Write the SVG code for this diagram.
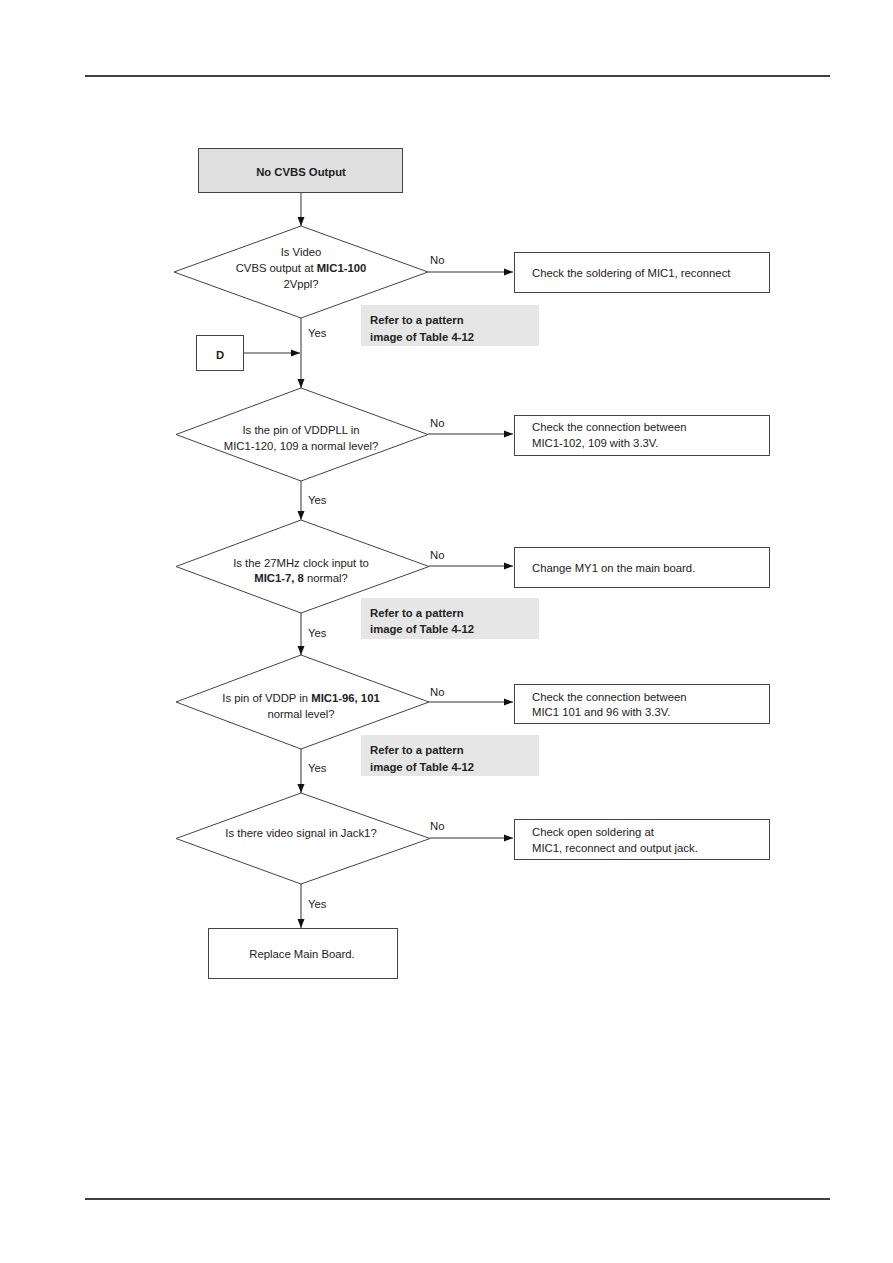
<svg xmlns="http://www.w3.org/2000/svg" width="893" height="1263" viewBox="0 0 893 1263">
<style>
text{font-family:"Liberation Sans",Arial,sans-serif;font-size:11.3px;fill:#222}
.b{font-weight:bold}
.c{text-anchor:middle}
.box{fill:#fff;stroke:#444;stroke-width:1}
.dia{fill:#fff;stroke:#444;stroke-width:1}
.ref{fill:#e6e6e6;stroke:none}
.ln{stroke:#333;stroke-width:1;fill:none}
</style>
<defs>
<marker id="ah" markerWidth="10" markerHeight="8" refX="9" refY="4" orient="auto" markerUnits="userSpaceOnUse">
<path d="M0,0.5 L9,4 L0,7.5 Z" fill="#111"/>
</marker>
</defs>
<line x1="85" y1="76" x2="830" y2="76" stroke="#000" stroke-width="1.5"/>
<line x1="85" y1="1199" x2="830" y2="1199" stroke="#000" stroke-width="1.5"/>

<g id="connectors">
<line class="ln" x1="301" y1="193" x2="301" y2="226" marker-end="url(#ah)"/>
<line class="ln" x1="301" y1="318" x2="301" y2="388" marker-end="url(#ah)"/>
<line class="ln" x1="244" y1="353" x2="300" y2="353" marker-end="url(#ah)"/>
<line class="ln" x1="301" y1="481" x2="301" y2="520" marker-end="url(#ah)"/>
<line class="ln" x1="301" y1="613" x2="301" y2="655" marker-end="url(#ah)"/>
<line class="ln" x1="301" y1="749" x2="301" y2="793" marker-end="url(#ah)"/>
<line class="ln" x1="301" y1="884" x2="301" y2="928" marker-end="url(#ah)"/>
<line class="ln" x1="428" y1="272" x2="513" y2="272" marker-end="url(#ah)"/>
<line class="ln" x1="428" y1="434" x2="513" y2="434" marker-end="url(#ah)"/>
<line class="ln" x1="429" y1="566" x2="513" y2="566" marker-end="url(#ah)"/>
<line class="ln" x1="429" y1="702" x2="513" y2="702" marker-end="url(#ah)" stroke-width="1.4"/>
<line class="ln" x1="430" y1="838" x2="513" y2="838" marker-end="url(#ah)"/>
<text x="430" y="264">No</text>
<text x="430" y="427">No</text>
<text x="430" y="559">No</text>
<text x="430" y="696">No</text>
<text x="430" y="830">No</text>
<text x="308" y="337">Yes</text>
<text x="308" y="504">Yes</text>
<text x="308" y="637">Yes</text>
<text x="308" y="772">Yes</text>
<text x="308" y="908">Yes</text>
</g>

<g id="start">
<rect x="198.5" y="148.5" width="204" height="44" fill="#e0e0e0" stroke="#444"/>
<text class="b c" x="301" y="176">No CVBS Output</text>
</g>

<g id="d1">
<polygon class="dia" points="301,226 428,272 301,318 174,272"/>
<text class="c" x="301" y="256">Is Video</text>
<text class="c" x="301" y="272">CVBS output at <tspan class="b">MIC1-100</tspan></text>
<text class="c" x="301" y="288">2Vppl?</text>
</g>
<g id="b1">
<rect class="box" x="514.5" y="252.5" width="255" height="40"/>
<text x="532" y="277">Check the soldering of MIC1, reconnect</text>
</g>
<g id="r1">
<rect class="ref" x="361" y="305" width="178" height="41"/>
<text class="b" x="370" y="324">Refer to a pattern</text>
<text class="b" x="370" y="341">image of Table 4-12</text>
</g>
<g id="nodeD">
<rect class="box" x="196.5" y="335.5" width="47" height="35"/>
<text class="b c" x="220" y="359">D</text>
</g>

<g id="d2">
<polygon class="dia" points="301,388 428,434.5 301,481 176,434.5"/>
<text class="c" x="301" y="434">Is the pin of VDDPLL in</text>
<text class="c" x="301" y="450">MIC1-120, 109 a normal level?</text>
</g>
<g id="b2">
<rect class="box" x="514.5" y="415.5" width="255" height="40"/>
<text x="532" y="431">Check the connection between</text>
<text x="532" y="447">MIC1-102, 109 with 3.3V.</text>
</g>

<g id="d3">
<polygon class="dia" points="301,520 429,566.5 301,613 176,566.5"/>
<text class="c" x="301" y="567">Is the 27MHz clock input  to</text>
<text class="c" x="301" y="582"><tspan class="b">MIC1-7, 8</tspan> normal?</text>
</g>
<g id="b3">
<rect class="box" x="514.5" y="547.5" width="255" height="40"/>
<text x="532" y="572">Change MY1 on the main board.</text>
</g>
<g id="r2">
<rect class="ref" x="361" y="598" width="178" height="41"/>
<text class="b" x="370" y="617">Refer to a pattern</text>
<text class="b" x="370" y="633">image of Table 4-12</text>
</g>

<g id="d4">
<polygon class="dia" points="301,655 429,702 301,749 176,702"/>
<text class="c" x="301" y="702">Is pin of VDDP in <tspan class="b">MIC1-96, 101</tspan></text>
<text class="c" x="301" y="718">normal level?</text>
</g>
<g id="b4">
<rect class="box" x="514.5" y="684.5" width="255" height="39"/>
<text x="532" y="701">Check the connection between</text>
<text x="532" y="716">MIC1 101 and 96 with 3.3V.</text>
</g>
<g id="r3">
<rect class="ref" x="361" y="735" width="178" height="41"/>
<text class="b" x="370" y="754">Refer to a pattern</text>
<text class="b" x="370" y="771">image of Table 4-12</text>
</g>

<g id="d5">
<polygon class="dia" points="301,793 430,838.5 301,884 176,838.5"/>
<text class="c" x="301" y="837">Is there video signal in Jack1?</text>
</g>
<g id="b5">
<rect class="box" x="514.5" y="819.5" width="255" height="40"/>
<text x="532" y="836">Check open soldering at</text>
<text x="532" y="852">MIC1, reconnect and output jack.</text>
</g>

<g id="end">
<rect class="box" x="208.5" y="928.5" width="189" height="50"/>
<text class="c" x="302" y="958">Replace Main Board.</text>
</g>
</svg>
